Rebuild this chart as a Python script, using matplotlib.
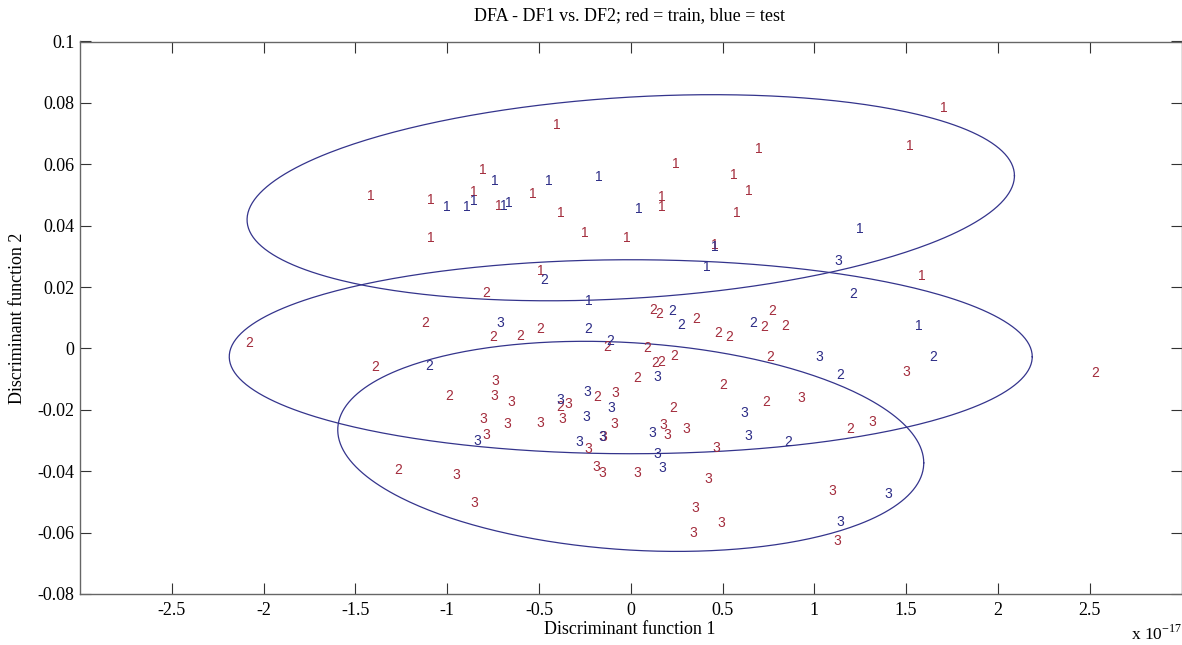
import numpy as np
import matplotlib
matplotlib.use('Agg')
from matplotlib import pyplot as plt

# DF1 values are in units of 1e-17
train_1_x = [-0.402, -0.805, -1.415, -1.088, -0.854, -0.718, -0.533, -0.380, -1.088, -0.249, 1.706, 1.521,
             0.698, 0.246, 0.562, 0.644, 0.170, 0.170, 0.578, -0.021, 0.459, -0.489, 1.586]
train_1_y = [0.0729, 0.0582, 0.0497, 0.0484, 0.0510, 0.0465, 0.0504, 0.0442, 0.0360, 0.0377, 0.0784, 0.0660,
             0.0650, 0.0602, 0.0566, 0.0514, 0.0494, 0.0461, 0.0442, 0.0360, 0.0338, 0.0253, 0.0237]
test_1_x = [-0.740, -0.446, -0.173, -1.001, -0.892, -0.854, -0.691, -0.663, 0.045, 1.248, 0.459, 0.415,
            -0.228, 1.570]
test_1_y = [0.0546, 0.0546, 0.0559, 0.0461, 0.0461, 0.0481, 0.0465, 0.0474, 0.0455, 0.0390, 0.0331, 0.0266,
            0.0155, 0.0074]

train_2_x = [-0.789, 0.121, 0.154, -1.121, -0.751, -0.603, -0.495, -0.130, -2.080, 0.088, 0.132, 0.164,
             0.235, -1.393, 0.034, -0.990, -0.184, -0.386, -1.268, 0.355, 0.769, 0.725, 0.840, 0.475,
             0.535, 0.758, 2.528, 0.502, 0.736, 0.230, 1.194]
train_2_y = [0.0181, 0.0126, 0.0113, 0.0083, 0.0038, 0.0041, 0.0064, 0.0005, 0.0018, 0.0002, -0.0047, -0.0044,
             -0.0024, -0.0060, -0.0096, -0.0154, -0.0158, -0.0190, -0.0396, 0.0097, 0.0123, 0.0070, 0.0074,
             0.0051, 0.0038, -0.0027, -0.0080, -0.0119, -0.0174, -0.0194, -0.0262]
test_2_x = [-0.473, -0.233, -0.113, -1.099, 0.224, 0.273, 0.666, 1.210, 1.646, 1.139, 0.856]
test_2_y = [0.0224, 0.0064, 0.0025, -0.0057, 0.0123, 0.0077, 0.0083, 0.0178, -0.0027, -0.0086, -0.0304]

train_3_x = [-0.740, -0.745, -0.653, -0.086, -0.342, -0.805, -0.674, -0.495, -0.375, -0.092, -0.151, 0.175,
             0.197, 0.301, -0.789, -0.233, -0.952, -0.190, -0.157, 0.034, -0.854, 1.499, 0.927, 1.314,
             0.464, 0.420, 1.096, 0.350, 0.491, 0.339, 1.123]
train_3_y = [-0.0106, -0.0154, -0.0174, -0.0145, -0.0181, -0.0229, -0.0246, -0.0242, -0.0229, -0.0246, -0.0288,
             -0.0249, -0.0282, -0.0262, -0.0282, -0.0327, -0.0412, -0.0386, -0.0405, -0.0405, -0.0503, -0.0076,
             -0.0161, -0.0239, -0.0324, -0.0425, -0.0464, -0.0519, -0.0568, -0.0601, -0.0627]
test_3_x = [-0.712, 0.143, -0.239, -0.386, -0.108, -0.244, -0.157, 0.115, -0.838, -0.282, 0.143, 0.170,
            1.129, 1.025, 0.617, 0.638, 1.401, 1.139]
test_3_y = [0.0083, -0.0093, -0.0141, -0.0168, -0.0194, -0.0223, -0.0288, -0.0275, -0.0301, -0.0304, -0.0343,
            -0.0389, 0.0286, -0.0027, -0.0210, -0.0285, -0.0474, -0.0565]

# class ellipses: centre, x half-width, y offset at x-extreme, y conjugate half-axis
ell_cx = [0.0, 0.0, 0.0]
ell_cy = [0.0491, -0.0027, -0.0319]
ell_a = [2.09, 2.187, 1.596]
ell_c = [0.00717, 0.0, -0.00538]
ell_d = [0.0328, 0.0316, 0.0338]

col_train = '#a32c3c'
col_test = '#2c2c86'
col_ell = '#34348c'
serif = 'Liberation Serif'


def main():
    fig = plt.figure(figsize=(11.82, 6.45), dpi=100)
    ax = fig.add_axes([80 / 1182, 51 / 645, 1101.5 / 1182, 552.5 / 645])

    t = np.linspace(0, 2 * np.pi, 400)
    for i in range(3):
        ax.plot(ell_cx[i] + ell_a[i] * np.cos(t),
                ell_cy[i] + ell_c[i] * np.cos(t) + ell_d[i] * np.sin(t),
                color=col_ell, lw=0.9)

    groups = [(train_1_x, train_1_y, '1', col_train), (test_1_x, test_1_y, '1', col_test),
              (train_2_x, train_2_y, '2', col_train), (test_2_x, test_2_y, '2', col_test),
              (train_3_x, train_3_y, '3', col_train), (test_3_x, test_3_y, '3', col_test)]
    for xs, ys, lab, col in groups:
        for x, y in zip(xs, ys):
            ax.text(x, y, lab, color=col, fontsize=10, family='Liberation Sans',
                    ha='center', va='center')

    ax.set_xlim(-3, 3)
    ax.set_ylim(-0.08, 0.1)
    xt = np.arange(-2.5, 2.51, 0.5)
    yt = np.arange(-0.08, 0.101, 0.02)
    ax.set_xticks(xt)
    ax.set_xticklabels(['%g' % round(v, 2) for v in xt])
    ax.set_yticks(yt)
    ax.set_yticklabels(['%g' % round(v, 2) for v in yt])
    ax.tick_params(direction='in', length=8, width=0.8, top=True, right=True,
                   labelsize=13, color='#333333')
    ax.tick_params(axis='x', pad=6)
    ax.tick_params(axis='y', pad=4)
    for lab in ax.get_xticklabels() + ax.get_yticklabels():
        lab.set_family(serif)
    for s in ax.spines.values():
        s.set_color('#666666')
        s.set_linewidth(1.0)

    fig.text(630 / 1182, 1 - 16 / 645, 'DFA - DF1 vs. DF2; red = train, blue = test',
             family=serif, fontsize=13, ha='center', va='center')
    fig.text(630 / 1182, 1 - 629 / 645, 'Discriminant function 1',
             family=serif, fontsize=13, ha='center', va='center')
    fig.text(18 / 1182, 1 - 318 / 645, 'Discriminant function 2', rotation=90,
             family=serif, fontsize=13, ha='center', va='center')
    fig.text(1131 / 1182, 1 / 645, r'x 10$^{\mathregular{-17}}$',
             family=serif, fontsize=12.5, ha='left', va='bottom')

    plt.savefig('out.png', dpi=100)
    plt.close()


if __name__ == '__main__':
    main()
